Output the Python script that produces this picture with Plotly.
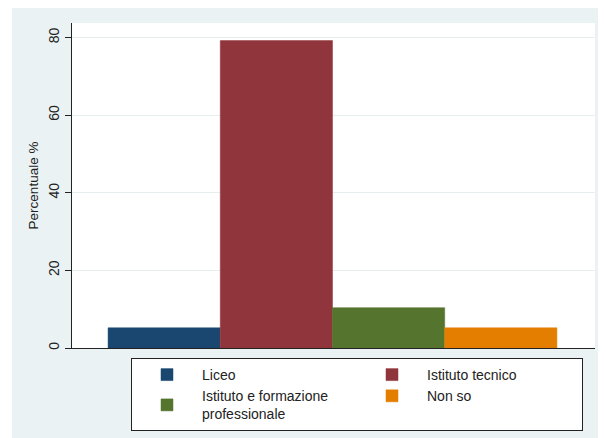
import plotly.graph_objects as go

categories = ["Liceo", "Istituto tecnico", "Istituto e formazione<br>professionale", "Non so"]
values = [5.2, 79.2, 10.4, 5.2]
colors = ["#1a476f", "#90353b", "#55752f", "#e37e00"]
y_ticks = [0, 20, 40, 60, 80]

# page has an 8px body margin, so the figure is laid out in shifted pixels
OFF = 8
W, H = 606 - OFF, 438 - OFF
L, R, T, B = 72 - OFF, 595 - OFF, 23 - OFF, 348 - OFF  # plot area px
pw, ph = R - L, B - T

fig = go.Figure()
for i, (name, v, c) in enumerate(zip(categories, values, colors)):
    fig.add_trace(go.Bar(
        x=[i], y=[v], width=[1], name=name,
        marker=dict(color=c, line=dict(color=c, width=0.5)),
        hoverinfo="name+y",
    ))

def px_x(p):
    return (p - L) / pw

def px_y(p):
    return (B - p) / ph

# background panel (Stata-style light blue)
fig.add_shape(type="rect", xref="paper", yref="paper",
              x0=px_x(12 - OFF), x1=px_x(W + 5), y0=px_y(H + 5), y1=px_y(-2),
              fillcolor="#eaf2f3", line=dict(width=0), layer="below")
fig.add_shape(type="rect", xref="paper", yref="paper",
              x0=0, x1=1, y0=0, y1=1,
              fillcolor="white", line=dict(width=0), layer="below")

bar_w = 112.0
xr0 = -0.5 - 36 / bar_w
xr1 = 3.5 + 38 / bar_w

fig.update_layout(
    width=W, height=H,
    margin=dict(l=L, r=W - R, t=T, b=H - B, pad=0, autoexpand=False),
    paper_bgcolor="white",
    plot_bgcolor="rgba(0,0,0,0)",
    font=dict(family="Liberation Sans, Arial, sans-serif", color="#222222", size=12),
    barmode="overlay",
    showlegend=True,
    legend=dict(
        orientation="h",
        x=px_x(131 - OFF), xanchor="left",
        y=px_y(358 - OFF), yanchor="top",
        entrywidth=150, entrywidthmode="pixels",
        bgcolor="white", bordercolor="#222222", borderwidth=1,
        font=dict(size=14, color="#222222"),
        traceorder="normal",
        itemwidth=60,
        tracegroupgap=0,
    ),
    xaxis=dict(
        range=[xr0, xr1], showticklabels=False, ticks="",
        showgrid=False, zeroline=False,
        showline=True, linecolor="#222222", linewidth=1,
        fixedrange=True,
    ),
    yaxis=dict(
        range=[0, (B - T) / ((B - (37.5 - OFF)) / 80)],
        tickvals=y_ticks, ticktext=[str(t) for t in y_ticks],
        tickangle=-90, ticks="outside", ticklen=6, tickcolor="#222222",
        tickfont=dict(size=14, color="#222222"),
        ticklabelstandoff=0,
        showgrid=True, gridcolor="#e6eef0", gridwidth=1,
        zeroline=False,
        showline=True, linecolor="#222222", linewidth=1,
        title=dict(text="Percentuale %", font=dict(size=13.5, color="#222222"), standoff=4),
        fixedrange=True,
    ),
)

fig.write_html("out.html")
